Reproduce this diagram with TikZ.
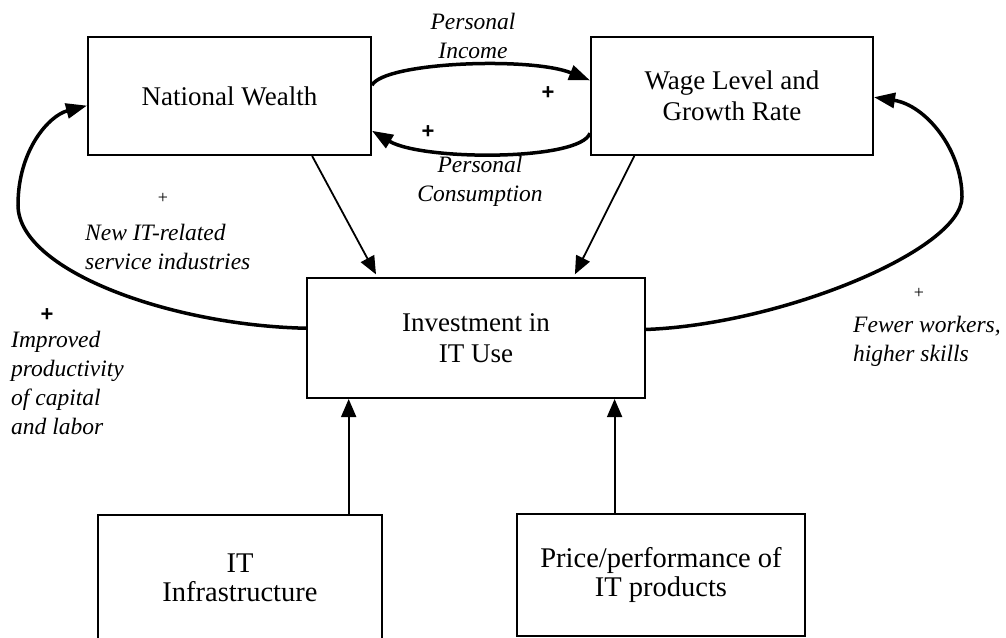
\documentclass[tikz,border=0pt]{standalone}
\usepackage{fontspec}
\setmainfont{Liberation Serif}
\newfontfamily\plusfont{Liberation Sans}
\usetikzlibrary{arrows.meta,calc}
\begin{document}
\begin{tikzpicture}[x=1pt,y=-1pt,
  box/.style={draw,line width=2pt,rectangle,inner sep=0pt,align=center,
    font=\fontsize{27}{31}\selectfont},
  lowbox/.style={box,font=\fontsize{28.5}{29}\selectfont},
  lbl/.style={inner sep=0pt,font=\fontsize{23.5}{29}\selectfont\itshape},
  pbold/.style={inner sep=0pt,font=\plusfont\bfseries\fontsize{22}{22}\selectfont},
  psmall/.style={inner sep=0pt,font=\fontsize{18}{18}\selectfont},
  thinarr/.style={line width=1.8pt,-{Triangle[length=18pt,width=15pt]},shorten >=3pt},
  arcarr/.style={line width=3.5pt,-{Triangle[length=21pt,width=15pt]}}]
\useasboundingbox (0,0) rectangle (1006,637);

% boxes
\node[box,minimum width=283pt,minimum height=118pt] (NW) at (229.5,96) {National Wealth};
\node[box,minimum width=282pt,minimum height=118pt] (WG) at (732,96) {Wage Level and\\Growth Rate};
\node[box,minimum width=338pt,minimum height=120pt] (INV) at (476,338) {Investment in\\IT Use};
\node[lowbox,minimum width=284pt,minimum height=125pt] (ITI) at (240,577.5) {IT\\Infrastructure};
\node[lowbox,minimum width=288pt,minimum height=122pt] (PR) at (661,575) {Price/performance of\\IT products};

% waypoints
\coordinate (lw) at (18,205);
\coordinate (rw) at (962,197);

% straight connectors
\draw[thinarr] ($(NW.south west)!0.79!(NW.south east)$) -- ($(INV.north west)!0.21!(INV.north east)$);
\draw[thinarr] ($(WG.south west)!0.156!(WG.south east)$) -- ($(INV.north west)!0.787!(INV.north east)$);
\draw[thinarr,shorten >=0pt] ($(ITI.north west)!0.88!(ITI.north east)$) coordinate (a1) -- (a1 |- INV.south);
\draw[thinarr,shorten >=0pt] ($(PR.north west)!0.34!(PR.north east)$) coordinate (a2) -- (a2 |- INV.south);

% curved connectors
\draw[arcarr] ($(NW.north east)!0.41!(NW.south east)$) .. controls +(12,-23) and +(-60,-24) .. ($(WG.north west)!0.37!(WG.south west)$);
\draw[arcarr] ($(WG.north west)!0.81!(WG.south west)$) .. controls +(-10,28) and +(50,30) .. ($(NW.north east)!0.79!(NW.south east)$);
\draw[arcarr] ($(INV.north west)!0.42!(INV.south west)$) .. controls +(-137,-3) and +(0,65) .. (lw) .. controls +(0,-55) and +(-38,10) .. ($(NW.north west)!0.58!(NW.south west)$);
\draw[arcarr] ($(INV.north east)!0.43!(INV.south east)$) .. controls +(135,-5) and +(0,53) .. (rw) .. controls +(0,-47) and +(52,8) .. ($(WG.north east)!0.51!(WG.south east)$);

% labels
\node[lbl,align=center] (inc) at (473,36) {Personal\\Income};
\node[lbl,align=center] (cons) at (480,181) {Personal\\Consumption};
\node[pbold] (p1) at (548,93) {+};
\node[pbold] (p2) at (428,132) {+};
\node[psmall] (p3) at (163,198) {+};
\node[lbl,align=left,anchor=west] (newit) at (85,247) {New IT-related\\service industries};
\node[pbold] (p4) at (47,315) {+};
\node[lbl,align=left,anchor=west] (impr) at (11,383) {Improved\\productivity\\of capital\\and labor};
\node[psmall] (p5) at (919,293) {+};
\node[lbl,align=left,anchor=west] (fewer) at (853,341) {Fewer workers,\\higher skills};
\end{tikzpicture}
\end{document}
